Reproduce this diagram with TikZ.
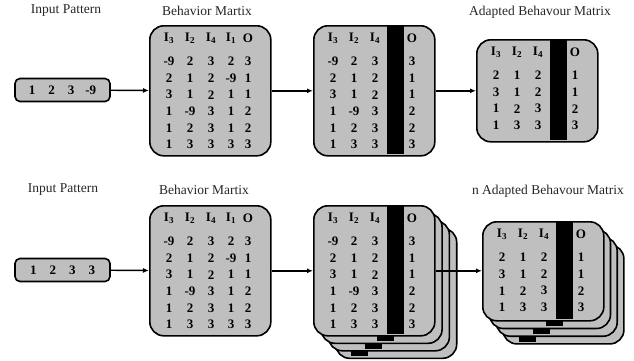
\documentclass[tikz,border=0pt]{standalone}
\usepackage{fontspec}
\setmainfont{Liberation Serif}
\usetikzlibrary{arrows.meta}

% one matrix box: name, left, top, height, masked column (0 = none), bar centre,
% rows, number of the first row shown (0 = no text, 1 = header and all rows)
\newcommand{\behmatrix}[8]{%
  \node[matbox, minimum height=#4pt, anchor=north west] (#1) at (#2,#3) {};
  \ifnum#8=1
    \foreach \h [count=\c] in {I\textsubscript{3},I\textsubscript{2},I\textsubscript{4},I\textsubscript{1},O} {
      \ifnum\c=#5\relax\else
        \edef\cx{\ifcase\c\or 20\or 41\or 62\or 82\or 99\fi}
        \node[cell] at (#2+\cx,#3+13.5) {\h};
      \fi
    }
  \fi
  \ifnum#8>0
    \foreach \row [count=\r from #8] in #7 {
      \pgfmathsetmacro\ry{#3+36.5+16.6*(\r-1)}
      \foreach \v [count=\c] in \row {
        \ifnum\c=#5\relax\else
          \edef\cx{\ifcase\c\or 20\or 41\or 62\or 82\or 99\fi}
          \node[cell] at (#2+\cx,\ry) {\v};
        \fi
      }
    }
  \fi
  \ifnum#5>0
    \fill (#2+#6-8.5,#3+1.3) rectangle (#2+#6+8.5,#3+#4-1.3);
  \fi
}

\newcommand{\fullrows}{{-9,2,3,2,3},{2,1,2,-9,1},{3,1,2,1,1},{1,-9,3,1,2},{1,2,3,1,2},{1,3,3,3,3}}
\newcommand{\keptrows}{{2,1,2,-9,1},{3,1,2,1,1},{1,2,3,1,2},{1,3,3,3,3}}
\newcommand{\bottomrow}{{1,3,3,3,3}}

\begin{document}
\begin{tikzpicture}[
    x=1pt, y=-1pt,
    % boxes
    matbox/.style={draw, line width=1.6pt, fill=black!25, rounded corners=14pt, minimum width=121pt, inner sep=0pt},
    inbox/.style={draw, line width=1.6pt, fill=black!25, rounded corners=5pt, minimum width=95pt, minimum height=23pt, inner sep=0pt, font=\bfseries\fontsize{13}{14}\selectfont},
    cell/.style={inner sep=0pt, font=\bfseries\fontsize{13}{14}\selectfont},
    % titles above the boxes
    caption/.style={text=black!85, font=\fontsize{13.5}{16}\selectfont},
    arr/.style={-{Latex[length=6pt,width=5pt]}, line width=1.4pt},
]
\useasboundingbox (0,0) rectangle (634,360);

% === TOP ROW ===
\node[caption] (lin1) at (66,11) {Input Pattern};
\node[caption] (lbm1) at (207,11) {Behavior Martix};
\node[caption] (lad1) at (540,12) {Adapted Behavour Matrix};

\node[inbox] (in1) at (62.5,90) {1\hspace{13pt}2\hspace{13pt}3\hspace{11pt}-9};
\behmatrix{bm1}{149}{25}{130}{0}{0}{\fullrows}{1}
\behmatrix{am1}{313}{25}{130}{4}{82.5}{\fullrows}{1}
\behmatrix{ad1}{476}{39}{102}{4}{82.5}{\keptrows}{1}

\draw[arr] (in1) -- (bm1);
\draw[arr] (bm1) -- (am1);
\draw[arr] (am1) -- (ad1);

% === BOTTOM ROW ===
\node[caption] (lin2) at (63,190) {Input Pattern};
\node[caption] (lbm2) at (204,190) {Behavior Martix};
\node[caption] (lad2) at (548,191) {n Adapted Behavour Matrix};

\node[inbox] (in2) at (62.5,270) {1\hspace{13pt}2\hspace{13pt}3\hspace{13pt}3};
\behmatrix{bm2}{149}{205}{130}{0}{0}{\fullrows}{1}

% stack of masked matrices, back to front (only their last row peeks out)
\foreach \k/\m/\b in {3/1/25, 2/2/46, 1/3/65.5} {
  \behmatrix{am2b\k}{313+7.3*\k}{205+7.5*\k}{130}{\m}{\b}{\bottomrow}{6}
}
\behmatrix{am2}{313}{205}{130}{4}{82.5}{\fullrows}{1}

% stack of adapted matrices, back to front
\foreach \k/\m/\b in {3/1/25, 2/2/46, 1/3/65.5} {
  \behmatrix{ad2b\k}{482+6.7*\k}{221+7.7*\k}{99}{\m}{\b}{\keptrows}{0}
}
\behmatrix{ad2}{482}{221}{99}{4}{82.5}{\keptrows}{1}

\draw[arr] (in2) -- (bm2);
\draw[arr] (bm2) -- (am2);
\draw[arr] (am2.east) -- (am2.east -| ad2.west);

\end{tikzpicture}
\end{document}
